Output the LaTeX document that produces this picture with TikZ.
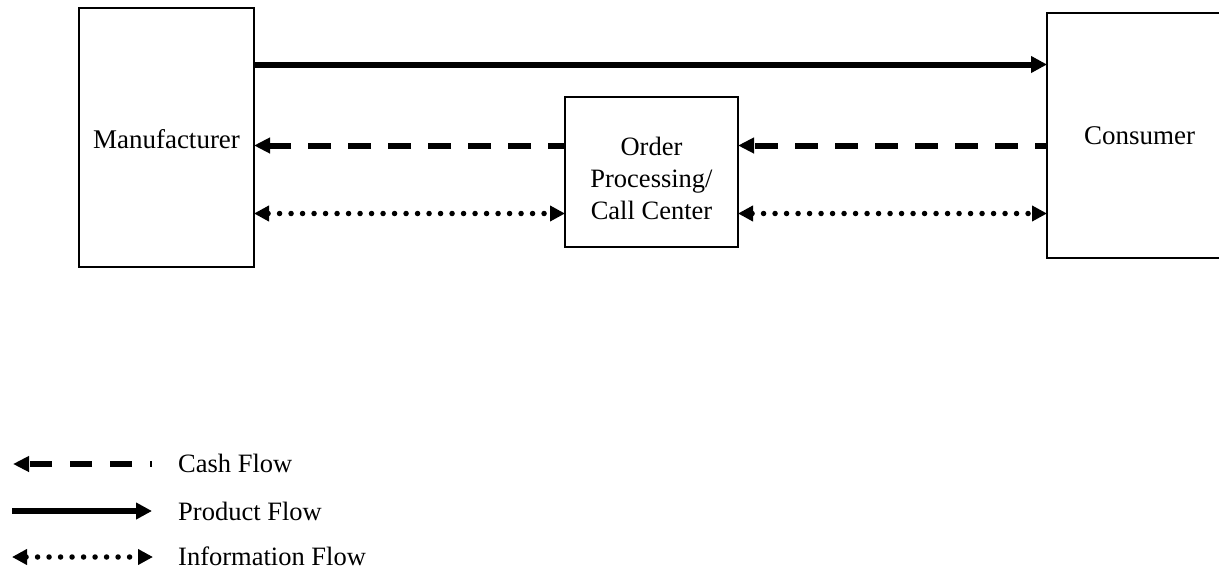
\documentclass[tikz,border=0pt]{standalone}
\usepackage{fontspec}
\setmainfont{Liberation Serif}
\usetikzlibrary{arrows.meta}
\begin{document}
\begin{tikzpicture}[x=1pt,y=-1pt,
  box/.style={draw,line width=1.4pt,inner sep=0pt,outer sep=0pt,align=center,
    font=\fontsize{27}{32}\selectfont},
  lbl/.style={align=center,inner sep=0pt,font=\fontsize{26.5}{32}\selectfont},
  product/.style={line width=6pt,-{Triangle[length=16pt,width=16pt]}},
  cash/.style={line width=6pt,dash pattern=on 23pt off 17pt,-{Triangle[length=16pt,width=15pt]}},
  info/.style={line width=5.5pt,line cap=round,dash pattern=on 0pt off 11.5pt,
    {Triangle[length=15pt,width=15pt]}-{Triangle[length=15pt,width=15pt]}},
  legend/.style={anchor=base west,inner sep=0pt,font=\fontsize{26.5}{31}\selectfont}]
\useasboundingbox (0,0) rectangle (1219,573);
\clip (0,0) rectangle (1219,573);

% the three parties
\node[box,minimum width=175pt,minimum height=259pt,text depth=0pt] (manu) at (166.5,137.5) {\raisebox{-2pt}{Manufacturer}};
\node[box,minimum width=185pt,minimum height=245pt] (cons) at (1139.5,135.5) {Consumer};
\node[box,minimum width=173pt,minimum height=150pt] (order) at (651.5,172) {};
\node[lbl] (ordertext) at (651.5,178) {Order\\Processing/\\Call Center};

% flow levels
\coordinate (yP) at (0,64.5);
\coordinate (yC) at (0,145.5);
\coordinate (yI) at (0,213.5);

% product flow: manufacturer to consumer
\draw[product] (manu.east |- yP) -- (cons.west |- yP);

% cash flow: consumer to call center to manufacturer
\draw[cash,dash phase=11pt] (cons.west |- yC) -- (order.east |- yC);
\draw[cash,dash phase=6pt] (order.west |- yC) -- (manu.east |- yC);

% information flow both ways
\draw[info] (manu.east |- yI) -- (order.west |- yI);
\draw[info] (order.east |- yI) -- (cons.west |- yI);

% legend
\coordinate (cashR) at (152,464);
\coordinate (cashL) at (13,464);
\coordinate (prodL) at (12,511);
\coordinate (prodR) at (152,511);
\coordinate (infoL) at (12,557);
\coordinate (infoR) at (153,557);
\draw[cash,dash pattern=on 22pt off 18pt,dash phase=20pt] (cashR) -- (cashL);
\draw[product] (prodL) -- (prodR);
\draw[info] (infoL) -- (infoR);
\node[legend] (lcash) at (178,472) {Cash Flow};
\node[legend] (lprod) at (178,520) {Product Flow};
\node[legend] (linfo) at (178,565) {Information Flow};
\end{tikzpicture}
\end{document}
